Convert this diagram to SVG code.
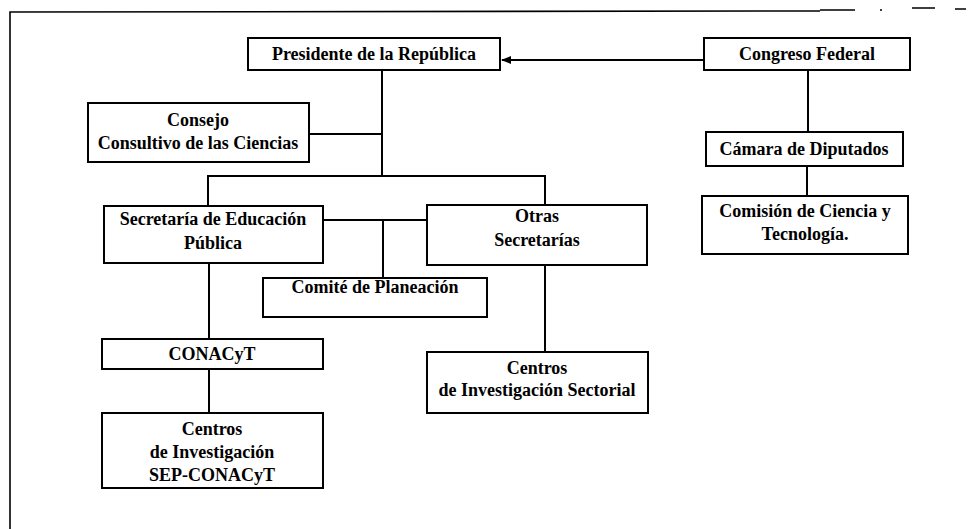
<svg xmlns="http://www.w3.org/2000/svg" width="971" height="529" viewBox="0 0 971 529">
<style>
.box{fill:#fff;stroke:#000;stroke-width:2}
.ln{fill:none;stroke:#000;stroke-width:2}
.fr{fill:none;stroke:#000;stroke-width:1.6}
.t{font-family:'Liberation Serif','DejaVu Serif',serif;font-weight:700;font-size:18px;fill:#000;text-anchor:middle}
</style>
<defs>
<marker id="arr" markerWidth="10" markerHeight="8" refX="9" refY="4" orient="auto" markerUnits="userSpaceOnUse">
<path d="M0,0 L10,4 L0,8 Z" fill="#000"/>
</marker>
</defs>
<rect width="971" height="529" fill="#fff"/>
<g id="frame">
<path class="fr" d="M10,529 L10,12 L820,11"/>
<path class="fr" d="M820,10 L855,10 M880,10 L882,10 M912,8 L935,8 M955,9 L966,9"/>
</g>
<g id="connectors">
<path class="ln" d="M704,60 L502,60" marker-end="url(#arr)"/>
<path class="ln" d="M382,70 L382,176"/>
<path class="ln" d="M309,134 L382,134"/>
<path class="ln" d="M208,206 L208,176 L545,176 L545,205"/>
<path class="ln" d="M323,220 L427,220"/>
<path class="ln" d="M383,220 L383,278"/>
<path class="ln" d="M209,263 L209,339"/>
<path class="ln" d="M209,369 L209,413"/>
<path class="ln" d="M545,265 L545,352"/>
<path class="ln" d="M808,70 L808,132"/>
<path class="ln" d="M807,166 L807,196"/>
</g>
<g id="presidente"><rect class="box" x="248" y="38" width="252" height="32"/><text class="t" x="374" y="60">Presidente de la República</text></g>
<g id="congreso"><rect class="box" x="704" y="38" width="206" height="32"/><text class="t" x="807" y="60">Congreso Federal</text></g>
<g id="consejo"><rect class="box" x="88" y="103" width="221" height="59"/><text class="t" x="198" y="126">Consejo</text><text class="t" x="198" y="149">Consultivo de las Ciencias</text></g>
<g id="camara"><rect class="box" x="706" y="132" width="197" height="34"/><text class="t" x="804" y="155">Cámara de Diputados</text></g>
<g id="comision"><rect class="box" x="702" y="196" width="206" height="58"/><text class="t" x="805" y="217">Comisión de Ciencia y</text><text class="t" x="805" y="240">Tecnología.</text></g>
<g id="sep"><rect class="box" x="104" y="206" width="219" height="57"/><text class="t" x="213" y="225">Secretaría de Educación</text><text class="t" x="213" y="249">Pública</text></g>
<g id="otras"><rect class="box" x="427" y="205" width="220" height="60"/><text class="t" x="537" y="222">Otras</text><text class="t" x="537" y="246">Secretarías</text></g>
<g id="comite"><rect class="box" x="263" y="278" width="224" height="39"/><text class="t" x="375" y="293">Comité de Planeación</text></g>
<g id="conacyt"><rect class="box" x="102" y="339" width="221" height="30"/><text class="t" x="212" y="360">CONACyT</text></g>
<g id="centros-sep"><rect class="box" x="102" y="413" width="221" height="75"/><text class="t" x="212" y="435">Centros</text><text class="t" x="212" y="458">de Investigación</text><text class="t" x="212" y="481">SEP-CONACyT</text></g>
<g id="centros-sectorial"><rect class="box" x="427" y="352" width="221" height="61"/><text class="t" x="537" y="374">Centros</text><text class="t" x="537" y="396">de Investigación Sectorial</text></g>
</svg>
